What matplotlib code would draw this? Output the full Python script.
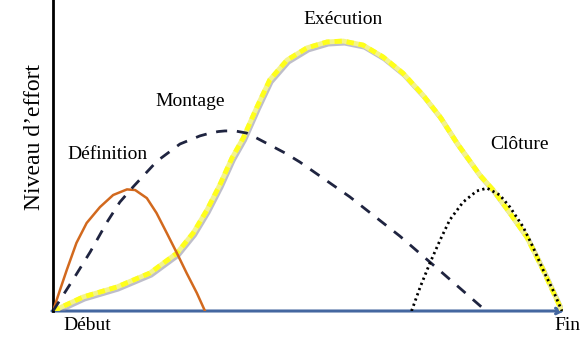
import matplotlib.pyplot as plt
import matplotlib.patheffects as pe

# effort curves for each project phase (time 0-100, effort 0-100)
definition_x = [0, 1.37, 2.7, 4.6, 6.6, 9.2, 11.8, 14.5, 16.1, 18.4, 20.3, 22.3,
                24.3, 26.2, 28.2, 29.8]
definition_y = [0, 6.75, 13.2, 21.9, 28.3, 33.4, 37.3, 39.1, 38.9, 36.3, 31.5, 25.1,
                18.6, 12.2, 5.8, 0]

montage_x = [0, 3.9, 7.3, 10.6, 13.1, 15.7, 20.4, 24.9, 28.8, 30.8, 32.4, 33.7,
             35.7, 38.0, 39.6, 42.5, 45.5, 48.4, 58.2, 68.0, 75.9, 84.5]
montage_y = [0, 10.0, 19.0, 28.6, 35.0, 39.9, 48.2, 53.7, 56.3, 57.2, 57.7, 57.9,
             57.9, 57.2, 55.9, 53.4, 50.8, 47.9, 36.7, 24.1, 12.9, 0.6]

execution_x = [0, 5.9, 12.5, 19.0, 24.3, 27.5, 30.2, 32.7, 35.1, 37.3, 40.0, 42.5,
               45.9, 49.8, 53.7, 56.9, 60.8, 64.7, 68.6, 72.5, 75.9, 79.2, 83.7,
               86.3, 89.6, 92.9, 96.1, 99.8]
execution_y = [0, 4.5, 7.7, 12.2, 18.6, 25.1, 32.5, 40.5, 49.2, 55.6, 65.6, 74.3,
               80.7, 84.6, 86.5, 86.8, 85.5, 81.7, 76.5, 69.5, 62.4, 54.0, 43.7,
               38.9, 31.5, 23.8, 13.2, 0]

cloture_x = [70.3, 72.0, 73.9, 75.9, 77.8, 80.4, 83.1, 85.1, 87.6, 89.6, 92.2,
             94.1, 96.1, 98.0, 99.8]
cloture_y = [0, 7.7, 15.4, 22.8, 29.3, 35.0, 38.6, 39.5, 37.3, 33.4, 27.0,
             20.6, 13.2, 6.8, 0]

plt.rcParams['font.family'] = 'Liberation Serif'

fig = plt.figure(figsize=(5.81, 3.39), dpi=100)
ax = fig.add_axes([53 / 581, 28 / 339, 510 / 581, 311 / 339])
ax.set_xlim(0, 100)
ax.set_ylim(0, 100)

# execution: yellow dashed band with a soft grey shadow
shadow = [pe.SimpleLineShadow(offset=(1, -1.5), shadow_color='#8a8aa0', alpha=0.55), pe.Normal()]
ax.plot(execution_x, execution_y, color='#f4f48a', lw=3.5, solid_joinstyle='round',
        path_effects=shadow, zorder=3)
ax.plot(execution_x, execution_y, color='#ffff1a', lw=3.5, dashes=(1.5, 1),
        solid_joinstyle='round', zorder=4)

ax.plot(definition_x, definition_y, color='#d2691e', lw=1.8, solid_joinstyle='round', zorder=5)
ax.plot(montage_x, montage_y, color='#1f2440', lw=2, dashes=(4, 3.5), zorder=5)
ax.plot(cloture_x, cloture_y, color='black', lw=2, dashes=(0.8, 1.2), zorder=6)

for side in ['top', 'right', 'bottom']:
    ax.spines[side].set_visible(False)
ax.spines['left'].set_linewidth(2)
ax.set_xticks([])
ax.set_yticks([])

# time axis with arrow head
ax.annotate('', xy=(100.3, 0), xytext=(-0.2, 0),
            arrowprops=dict(arrowstyle='->', color='#4467a0', lw=2.2,
                            shrinkA=0, shrinkB=0),
            annotation_clip=False, zorder=2)

fs = 14
ax.text(2.0, -4.6, 'Début', fontsize=fs, ha='left', va='center', clip_on=False)
ax.text(98.4, -4.6, 'Fin', fontsize=fs, ha='left', va='center', clip_on=False)
ax.text(2.9, 50.2, 'Définition', fontsize=fs, ha='left', va='center')
ax.text(20.0, 67.5, 'Montage', fontsize=fs, ha='left', va='center')
ax.text(49.0, 93.6, 'Exécution', fontsize=fs, ha='left', va='center')
ax.text(85.7, 53.4, 'Clôture', fontsize=fs, ha='left', va='center')

fig.text(35 / 581, 1 - 137 / 339, 'Niveau d’effort', fontsize=17, rotation=90,
         ha='center', va='center')

fig.savefig('out.png', dpi=100)
